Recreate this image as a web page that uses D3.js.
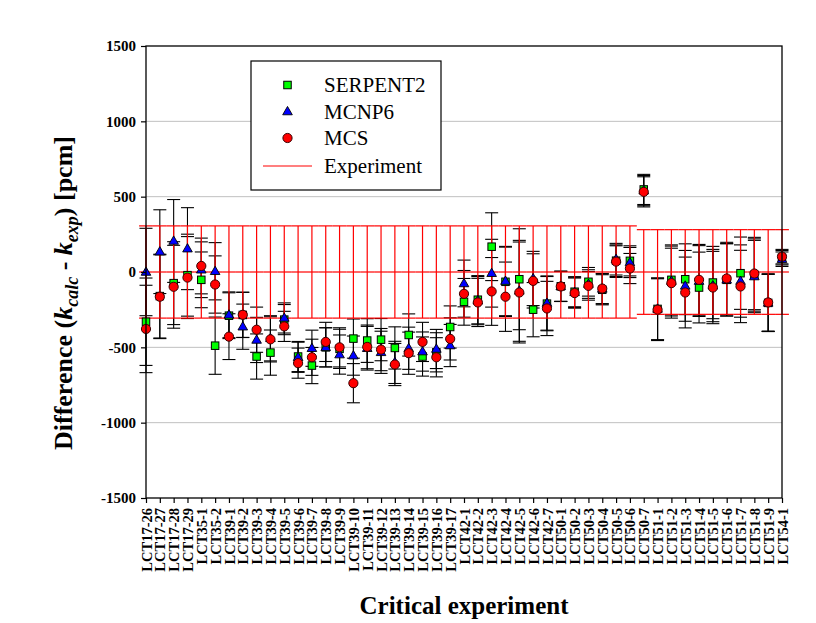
<!DOCTYPE html>
<html>
<head>
<meta charset="utf-8">
<script src="https://cdn.jsdelivr.net/npm/d3@7"></script>
<style>
  html, body { margin: 0; padding: 0; background: #ffffff; }
  svg { display: block; font-family: "Liberation Serif", "Times New Roman", serif; }
</style>
</head>
<body>
<svg id="chart" width="816" height="623"></svg>
<script>
const categories = ["LCT17-26","LCT17-27","LCT17-28","LCT17-29","LCT35-1","LCT35-2",
  "LCT39-1","LCT39-2","LCT39-3","LCT39-4","LCT39-5","LCT39-6","LCT39-7","LCT39-8","LCT39-9",
  "LCT39-10","LCT39-11","LCT39-12","LCT39-13","LCT39-14","LCT39-15","LCT39-16","LCT39-17",
  "LCT42-1","LCT42-2","LCT42-3","LCT42-4","LCT42-5","LCT42-6","LCT42-7",
  "LCT50-1","LCT50-2","LCT50-3","LCT50-4","LCT50-5","LCT50-6","LCT50-7",
  "LCT51-1","LCT51-2","LCT51-3","LCT51-4","LCT51-5","LCT51-6","LCT51-7","LCT51-8","LCT51-9",
  "LCT54-1"];

const serpent2 = [-330,-160,-74,-21,-52,-489,
  -290,-285,-561,-535,-316,-561,-621,-500,-510,
  -442,-455,-449,-504,-418,-561,-533,-365,
  -198,-184,168,-65,-48,-250,-210,
  -95,-131,-65,-118,75,74,548,
  -245,-52,-48,-103,-70,-52,-8,-20,-205,
  95];

const mcnp6 = [0,135,206,155,15,5,
  -284,-363,-451,-440,-305,-566,-506,-500,-548,
  -555,-506,-533,-600,-506,-528,-511,-488,
  -76,-190,-8,-60,-125,-43,-206,
  -95,-135,-80,-112,85,63,540,
  -245,-60,-92,-60,-90,-52,-60,-30,-205,
  85];

const mcs = [-378,-164,-98,-37,40,-83,
  -429,-284,-383,-447,-361,-605,-566,-464,-500,
  -738,-497,-515,-614,-539,-464,-566,-444,
  -145,-202,-129,-164,-136,-59,-242,
  -96,-140,-92,-110,69,23,532,
  -250,-74,-136,-52,-103,-43,-96,-10,-202,
  102];

// calculation error bar half-widths [pcm]
const calcErrors = [290,278,275,272,185,190,
  152,150,150,150,100,100,120,130,130,
  130,145,140,140,140,130,130,140,
  155,160,225,230,335,180,180,
  100,100,95,100,105,100,100,
  205,232,235,235,240,240,240,240,190,
  48];

// experimental uncertainty band half-widths [pcm]
const expUnc = [306,306,306,306,306,306,
  306,306,306,306,306,306,306,306,306,
  306,306,306,306,306,306,306,306,
  306,306,306,306,306,306,306,
  306,306,306,306,306,306,281,
  281,281,281,281,281,281,281,281,281,
  281];

const yTicks = [-1500,-1000,-500,0,500,1000,1500];
const gridValues = [-1000,-500,500,1000];

const seriesNames = ["SERPENT2","MCNP6","MCS"];
const seriesData = [serpent2, mcnp6, mcs];

const svg = d3.select("#chart");
const L = 146, R = 782, T = 46, B = 498;
const FONT = "Liberation Serif";

const x = d3.scalePoint().domain(categories).range([L, R]).padding(0);
const y = d3.scaleLinear().domain([-1500, 1500]).range([B, T]);
const step = x.step();

// grid
svg.append("g").selectAll("line").data(gridValues).join("line")
  .attr("x1", L).attr("x2", R)
  .attr("y1", d => y(d)).attr("y2", d => y(d))
  .attr("stroke", "#c0c0c0").attr("stroke-width", 1);

// black calculation error bars
const eb = svg.append("g").attr("stroke", "#000").attr("stroke-width", 1.1);
seriesData.forEach(arr => {
  categories.forEach((c, i) => {
    const cx = x(c), v = arr[i], e = calcErrors[i];
    eb.append("line").attr("x1", cx).attr("x2", cx).attr("y1", y(v + e)).attr("y2", y(v - e));
    eb.append("line").attr("x1", cx - 6.5).attr("x2", cx + 6.5).attr("y1", y(v + e)).attr("y2", y(v + e));
    eb.append("line").attr("x1", cx - 6.5).attr("x2", cx + 6.5).attr("y1", y(v - e)).attr("y2", y(v - e));
  });
});

// experiment band (red)
const ex = svg.append("g").attr("stroke", "#ff0000").attr("stroke-width", 1.2);
categories.forEach((c, i) => {
  const cx = x(c), u = expUnc[i];
  [u, 0, -u].forEach(v => {
    ex.append("line").attr("x1", cx - step / 2).attr("x2", cx + step / 2)
      .attr("y1", y(v)).attr("y2", y(v));
  });
  ex.append("line").attr("x1", cx).attr("x2", cx).attr("y1", y(u)).attr("y2", y(-u));
});

// markers
const sq = 7.5;
svg.append("g").selectAll("rect").data(categories).join("rect")
  .attr("x", (c) => x(c) - sq / 2).attr("y", (c, i) => y(serpent2[i]) - sq / 2)
  .attr("width", sq).attr("height", sq)
  .attr("fill", "#00ff00").attr("stroke", "#000").attr("stroke-width", 1);

const tri = d3.symbol().type(d3.symbolTriangle).size(40);
svg.append("g").selectAll("path").data(categories).join("path")
  .attr("d", tri)
  .attr("transform", (c, i) => `translate(${x(c)},${y(mcnp6[i]) + 0.5})`)
  .attr("fill", "#0000ff").attr("stroke", "#000").attr("stroke-width", 0.9);

svg.append("g").selectAll("circle").data(categories).join("circle")
  .attr("cx", c => x(c)).attr("cy", (c, i) => y(mcs[i])).attr("r", 4.6)
  .attr("fill", "#ff0000").attr("stroke", "#3a0000").attr("stroke-width", 1);

// frame
svg.append("rect").attr("x", L).attr("y", T).attr("width", R - L).attr("height", B - T)
  .attr("fill", "none").attr("stroke", "#000").attr("stroke-width", 1.3);

// y axis
const yAxis = svg.append("g").attr("transform", `translate(${L},0)`)
  .call(d3.axisLeft(y).tickValues(yTicks).tickFormat(d => String(d))
    .tickSize(5).tickSizeOuter(0).tickPadding(5));
yAxis.select(".domain").remove();
yAxis.selectAll("line").attr("stroke", "#000").attr("stroke-width", 1.2);
yAxis.selectAll("text").attr("font-family", FONT).attr("font-weight", "bold")
  .attr("font-size", 15).attr("fill", "#000");

// x axis
const xAxis = svg.append("g").attr("transform", `translate(0,${B})`)
  .call(d3.axisBottom(x).tickSize(5).tickSizeOuter(0).tickPadding(0));
xAxis.select(".domain").remove();
xAxis.selectAll("line").attr("stroke", "#000").attr("stroke-width", 1.2);
xAxis.selectAll("text")
  .attr("font-family", FONT).attr("font-weight", "bold")
  .attr("font-size", 14.5).attr("fill", "#000")
  .attr("text-anchor", "end")
  .attr("transform", "rotate(-90)")
  .attr("x", -10).attr("y", 0).attr("dy", "0.35em");

// axis titles
const yt = svg.append("text")
  .attr("transform", "translate(72,293) rotate(-90)")
  .attr("text-anchor", "middle")
  .attr("font-family", FONT).attr("font-weight", "bold")
  .attr("font-size", 26).attr("fill", "#000");
yt.append("tspan").text("Difference (");
yt.append("tspan").attr("font-style", "italic").text("k");
yt.append("tspan").attr("font-style", "italic").attr("font-size", 18).attr("dy", 6).text("calc");
yt.append("tspan").attr("dy", -6).text(" - ");
yt.append("tspan").attr("font-style", "italic").text("k");
yt.append("tspan").attr("font-style", "italic").attr("font-size", 18).attr("dy", 6).text("exp");
yt.append("tspan").attr("dy", -6).text(") [pcm]");

svg.append("text")
  .attr("x", 464).attr("y", 614)
  .attr("text-anchor", "middle")
  .attr("font-family", FONT).attr("font-weight", "bold")
  .attr("font-size", 25).attr("fill", "#000")
  .text("Critical experiment");

// legend
const lg = svg.append("g");
lg.append("rect").attr("x", 251).attr("y", 61).attr("width", 190).attr("height", 129)
  .attr("fill", "#fff").attr("stroke", "#000").attr("stroke-width", 1.2);
const legY = [85, 111.5, 138, 166];
const lx = 287.5;
lg.append("rect").attr("x", lx - sq / 2).attr("y", legY[0] - sq / 2).attr("width", sq).attr("height", sq)
  .attr("fill", "#00ff00").attr("stroke", "#000").attr("stroke-width", 1);
lg.append("path").attr("d", tri).attr("transform", `translate(${lx},${legY[1] + 0.5})`)
  .attr("fill", "#0000ff").attr("stroke", "#000").attr("stroke-width", 0.9);
lg.append("circle").attr("cx", lx).attr("cy", legY[2]).attr("r", 4.6)
  .attr("fill", "#ff0000").attr("stroke", "#3a0000").attr("stroke-width", 1);
lg.append("line").attr("x1", 263).attr("x2", 312).attr("y1", legY[3]).attr("y2", legY[3])
  .attr("stroke", "#ff0000").attr("stroke-width", 1.2);
const legNames = seriesNames.concat(["Experiment"]);
lg.selectAll("text.lt").data(legNames).join("text").attr("class", "lt")
  .attr("x", 324).attr("y", (d, i) => legY[i]).attr("dy", "0.35em")
  .attr("font-family", FONT).attr("font-size", 21).attr("fill", "#000")
  .text(d => d);
</script>
</body>
</html>
